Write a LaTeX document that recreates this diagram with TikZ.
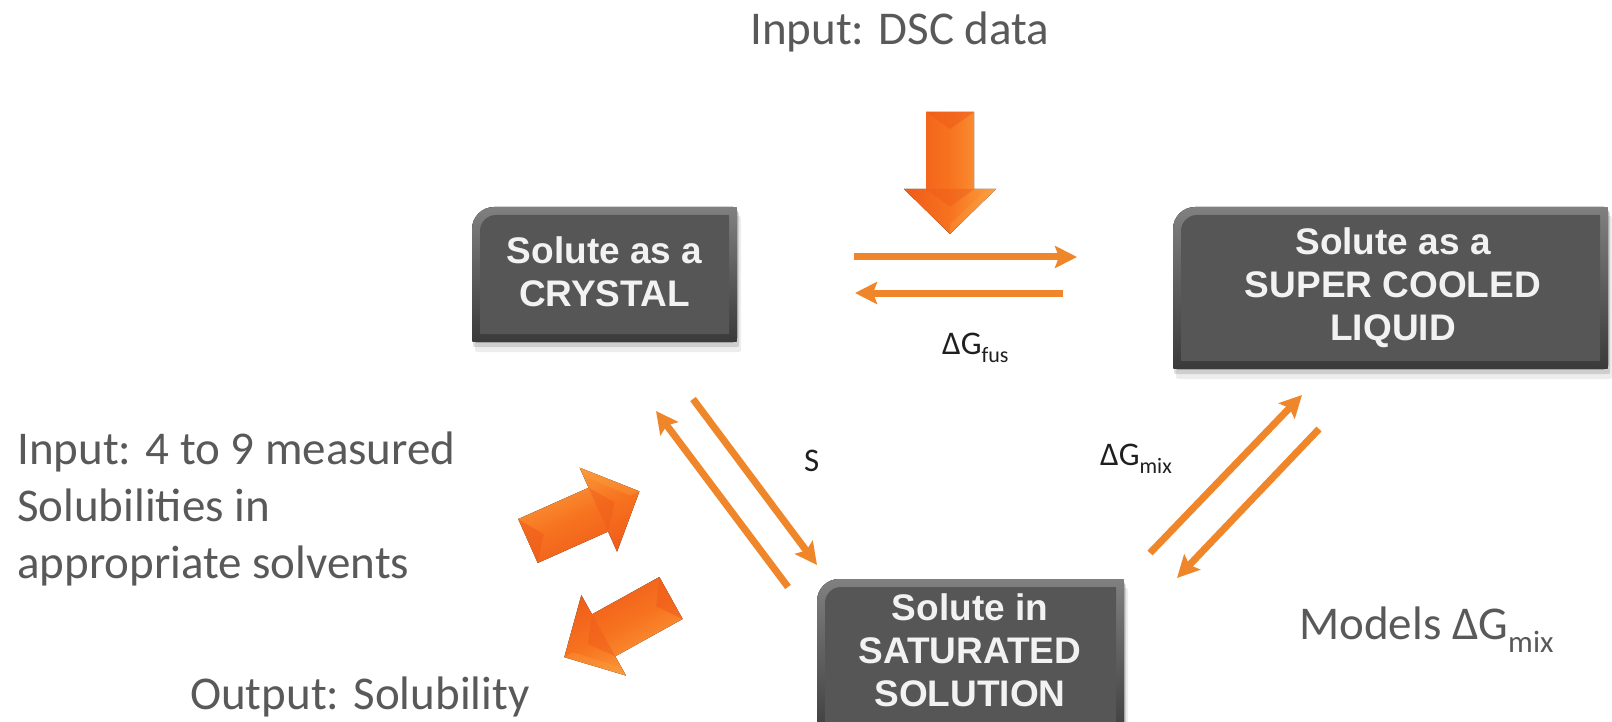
\documentclass[tikz,border=0pt]{standalone}
\usepackage{fontspec}
\setmainfont{Carlito}
\newfontfamily\boxfont{Liberation Sans}
\usetikzlibrary{arrows.meta}

\definecolor{labelgrey}{HTML}{595959}
\definecolor{linkorange}{HTML}{F0862A}
\definecolor{blockdark}{HTML}{EF5A1A}
\definecolor{blockmid}{HTML}{F7731F}
\definecolor{blocklight}{HTML}{FBA040}
\definecolor{boxfill}{HTML}{565656}
\definecolor{boxedge}{HTML}{808080}
\definecolor{boxshade}{HTML}{3A3A3A}
\definecolor{boxtext}{HTML}{F2F2F2}

% lowered, smaller subscript in the text font
\newcommand\lowsub[3]{\raisebox{-#2pt}{\fontsize{#1}{#1}\selectfont #3}}

% outline of a state box: large round top-left corner, small ones elsewhere
\newcommand\boxpath[6]{%
  ({#1},{#4-#6}) -- ({#1},{#2+#5})
  .. controls ({#1},{#2+0.45*#5}) and ({#1+0.45*#5},{#2}) .. ({#1+#5},{#2})
  -- ({#3-#6},{#2}) .. controls ({#3},{#2}) .. ({#3},{#2+#6})
  -- ({#3},{#4-#6}) .. controls ({#3},{#4}) .. ({#3-#6},{#4})
  -- ({#1+#6},{#4}) .. controls ({#1},{#4}) .. ({#1},{#4-#6}) -- cycle}

% bevelled dark state box
\newcommand\statebox[4]{%
  \fill[black,opacity=0.07] \boxpath{#1+3}{#2+9}{#3+4}{#4+10}{22}{5};
  \fill[black,opacity=0.13] \boxpath{#1+1}{#2+5}{#3+2}{#4+5}{22}{4};
  \fill[top color=boxedge, bottom color=boxshade] \boxpath{#1}{#2}{#3}{#4}{22}{4};
  \fill[boxfill] \boxpath{#1+8}{#2+8}{#3-8}{#4-8}{16}{2};
}

% thick bevelled block arrow: tail centre (x,y), direction angle
\newcommand\blockarrow[3]{%
  \begin{scope}[shift={(#1,#2)}, rotate=#3]
    \fill[top color=blocklight, bottom color=blockdark, middle color=blockmid, shading angle=#3]
      (0,-24) -- (77,-24) -- (77,-46) -- (122,0) -- (77,46) -- (77,24) -- (0,24) -- cycle;
    \fill[blockdark,opacity=0.55] (0,-24) -- (17,0) -- (0,24) -- cycle;
    \fill[blockdark,opacity=0.45] (77,-24) -- (95,0) -- (77,24) -- cycle;
    \fill[blocklight,opacity=0.35] (77,-46) -- (122,0) -- (112,0) -- (80,-34) -- cycle;
  \end{scope}}

\tikzset{
  bigtext/.style={font=\fontsize{47}{57}\selectfont, text=labelgrey, inner sep=0pt},
  gibbs/.style={font=\fontsize{33}{40}\selectfont, text=black!88, inner sep=0pt},
  boxlabel/.style={font=\boxfont\bfseries\fontsize{37}{43}\selectfont, text=boxtext,
    align=center, inner sep=0pt},
  link/.style={draw=linkorange, line width=7pt,
    -{Stealth[length=22pt,width=22pt,inset=4pt]}},
}

\begin{document}
\begin{tikzpicture}[x=1pt,y=-1pt]
\useasboundingbox (0,0) rectangle (1612,722);
\fill[white] (0,0) rectangle (1612,722);

% state boxes
\statebox{472}{207}{737}{342}
\statebox{1173}{207}{1608}{369}
\statebox{817}{579}{1124}{745}

\node[boxlabel] (crystal) at (604.5,272) {Solute as a\\CRYSTAL};
\node[boxlabel] (liquid) at (1393,288) {Solute as a\\SUPER COOLED\\LIQUID};
\node[boxlabel] (solution) at (970,650) {Solute in\\SATURATED\\SOLUTION};

% input / output block arrows
\blockarrow{950}{112}{-90}
\blockarrow{528}{541}{24}
\blockarrow{671}{598}{209}

% equilibrium arrows
\coordinate (fusA) at (854,257);  \coordinate (fusB) at (1077,257);
\coordinate (fusC) at (1063,293); \coordinate (fusD) at (855,293);
\draw[link] (fusA) -- (fusB);
\draw[link] (fusC) -- (fusD);

\coordinate (solA) at (693,399);  \coordinate (solB) at (817,565);
\coordinate (solC) at (788,587);  \coordinate (solD) at (656,411);
\draw[link] (solA) -- (solB);
\draw[link] (solC) -- (solD);

\coordinate (mixA) at (1150,553); \coordinate (mixB) at (1302,395);
\coordinate (mixC) at (1319,429); \coordinate (mixD) at (1177,578);
\draw[link] (mixA) -- (mixB);
\draw[link] (mixC) -- (mixD);

% labels
\node[bigtext, anchor=base west] (dsc) at (750,45) {Input: DSC data};
\node[bigtext, anchor=base west, align=left] (measured) at (17,578)
  {Input: 4 to 9 measured\\Solubilities in\\appropriate solvents};
\node[bigtext, anchor=base west] (output) at (190,709) {Output: Solubility};
\node[bigtext, anchor=base west] (models) at (1299,639) {Models ΔG\lowsub{31}{13}{mix}};

\node[gibbs, anchor=base west] (gfus) at (942,354) {ΔG\lowsub{22}{8}{fus}};
\node[gibbs, anchor=base west] (gmix) at (1100,465) {ΔG\lowsub{22}{8}{mix}};
\node[gibbs, anchor=base west] (s) at (804,471) {S};
\end{tikzpicture}
\end{document}
